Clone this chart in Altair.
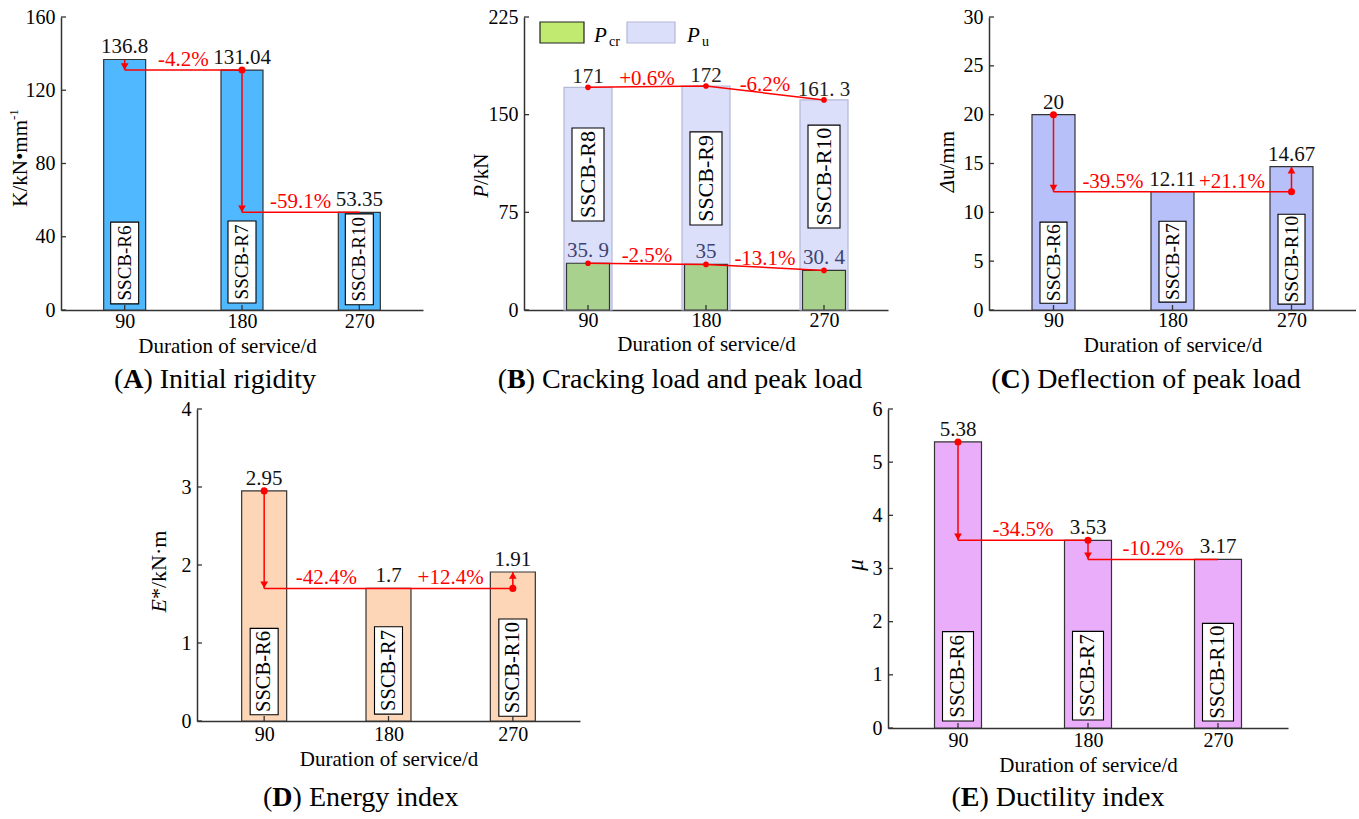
import altair as alt
import pandas as pd

# ---------------- data ----------------
days = [90, 180, 270]

spec_A = ["SSCB-R6", "SSCB-R7", "SSCB-R10"]
K_values = [136.8, 131.04, 53.35]
K_labels = ["136.8", "131.04", "53.35"]
K_changes = ["-4.2%", "-59.1%"]

spec_B = ["SSCB-R8", "SSCB-R9", "SSCB-R10"]
Pu_values = [171, 172, 161.3]
Pu_labels = ["171", "172", "161. 3"]
Pu_changes = ["+0.6%", "-6.2%"]
Pcr_values = [35.9, 35, 30.4]
Pcr_labels = ["35. 9", "35", "30. 4"]
Pcr_changes = ["-2.5%", "-13.1%"]

spec_C = ["SSCB-R6", "SSCB-R7", "SSCB-R10"]
du_values = [20, 12.11, 14.67]
du_labels = ["20", "12.11", "14.67"]
du_changes = ["-39.5%", "+21.1%"]

spec_D = ["SSCB-R6", "SSCB-R7", "SSCB-R10"]
E_values = [2.95, 1.7, 1.91]
E_labels = ["2.95", "1.7", "1.91"]
E_changes = ["-42.4%", "+12.4%"]

spec_E = ["SSCB-R6", "SSCB-R7", "SSCB-R10"]
mu_values = [5.38, 3.53, 3.17]
mu_labels = ["5.38", "3.53", "3.17"]
mu_changes = ["-34.5%", "-10.2%"]

# ---------------- style helpers ----------------
FONT = "Liberation Serif"
RED = "#ff0000"
DARK = "#333333"
CAP_SIZE = 28

TW = {' ': 250, '(': 333, ')': 333, 'A': 722, 'B': 667, 'C': 667, 'D': 722, 'E': 611,
      'I': 333, 'a': 444, 'b': 500, 'c': 444, 'd': 500, 'e': 444, 'f': 333, 'g': 500,
      'h': 500, 'i': 278, 'k': 500, 'l': 278, 'm': 778, 'n': 500, 'o': 500, 'p': 500,
      'r': 333, 's': 389, 't': 278, 'u': 500, 'v': 500, 'x': 500, 'y': 500}
TWB = {'A': 722, 'B': 667, 'C': 722, 'D': 722, 'E': 667}


def twidth(s, size):
    return sum(TW.get(c, 500) for c in s) / 1000 * size


def const_text(txt, x, y, size=21, style="normal", weight="normal", align="center",
               baseline="middle", angle=0, dy=0, color="black"):
    kw = dict(font=FONT, fontSize=size, fontStyle=style, fontWeight=weight,
              align=align, baseline=baseline, color=color)
    if angle:
        kw["angle"] = angle
    if dy:
        kw["dy"] = dy
    return alt.Chart(pd.DataFrame({"t": [txt]})).mark_text(**kw).encode(
        x=alt.value(x), y=alt.value(y), text="t:N")


def caption(letter, rest, cx, cy, size=CAP_SIZE):
    w_open = twidth("(", size)
    w_let = TWB[letter] / 1000 * size
    w_rest = twidth(rest, size)
    x0 = cx - (w_open + w_let + w_rest) / 2
    return [const_text("(", x0, cy, size, align="left"),
            const_text(letter, x0 + w_open, cy, size, weight="bold", align="left"),
            const_text(rest, x0 + w_open + w_let, cy, size, align="left")]


class Enc:
    """Shared x/y encodings (same scale and axis in every layer of a panel)."""

    def __init__(self, ymax, yticks, xlab_pad, xtitle_y, xtitle_x=None):
        self.xs = alt.Scale(domain=[45, 315], nice=False, zero=False)
        self.ys = alt.Scale(domain=[0, ymax], nice=False, zero=True)
        ax_kw = dict(values=days, format="d", title="Duration of service/d",
                     labelPadding=xlab_pad, titleY=xtitle_y, titleBaseline="middle")
        if xtitle_x is not None:
            ax_kw["titleX"] = xtitle_x
        self.xax = alt.Axis(**ax_kw)
        self.yax = alt.Axis(values=yticks, title="", labelPadding=6)
        self.yticks = yticks

    def X(self, f):
        return alt.X(f, type="quantitative", scale=self.xs, axis=self.xax)

    def Y(self, f):
        return alt.Y(f, type="quantitative", scale=self.ys, axis=self.yax)


def tick_layers(e, h):
    yt = alt.Chart(pd.DataFrame({"t": e.yticks})).mark_rule(color=DARK, strokeWidth=1.3).encode(
        y=e.Y("t"), x=alt.value(0), x2=alt.value(5))
    xt = alt.Chart(pd.DataFrame({"d": days})).mark_rule(color=DARK, strokeWidth=1.3).encode(
        x=e.X("d"), y=alt.value(h), y2=alt.value(h - 5))
    return [xt, yt]


def change_layers(e, values, changes, pattern, skip_first_dot=False):
    d, v = days, values
    mids = [(d[0] + d[1]) / 2, (d[1] + d[2]) / 2]
    if pattern == "stair":
        vseg = [(d[0], v[0], v[1]), (d[1], v[1], v[2])]
        hseg = [(v[1], d[0], d[1]), (v[2], d[1], d[2])]
        dots = [(d[0], v[0]), (d[1], v[1])]
        pct_y = [v[1], v[2]]
    else:
        vseg = [(d[0], v[0], v[1]), (d[2], v[1], v[2])]
        hseg = [(v[1], d[0], d[2])]
        dots = [(d[0], v[0]), (d[2], v[1])]
        pct_y = [v[1], v[1]]
    if skip_first_dot:
        dots = dots[1:]
    vdf = pd.DataFrame(vseg, columns=["x", "y1", "y2"])
    hdf = pd.DataFrame(hseg, columns=["y", "x1", "x2"])
    ddf = pd.DataFrame(dots, columns=["x", "y"])
    down = pd.DataFrame([(x, b) for x, a, b in vseg if b < a], columns=["x", "y"])
    up = pd.DataFrame([(x, b) for x, a, b in vseg if b > a], columns=["x", "y"])
    pdf = pd.DataFrame({"x": mids, "y": pct_y, "t": changes})
    layers = [
        alt.Chart(vdf).mark_rule(color=RED, strokeWidth=1.5).encode(x=e.X("x"), y=e.Y("y1"), y2="y2:Q"),
        alt.Chart(hdf).mark_rule(color=RED, strokeWidth=1.5).encode(x=e.X("x1"), x2="x2:Q", y=e.Y("y")),
    ]
    if len(down):
        layers.append(alt.Chart(down).mark_point(shape="triangle-down", filled=True, color=RED,
                                                 opacity=1, size=60, yOffset=-3.5)
                      .encode(x=e.X("x"), y=e.Y("y")))
    if len(up):
        layers.append(alt.Chart(up).mark_point(shape="triangle-up", filled=True, color=RED,
                                               opacity=1, size=60, yOffset=3.5)
                      .encode(x=e.X("x"), y=e.Y("y")))
    layers.append(alt.Chart(ddf).mark_circle(color=RED, opacity=1, size=50).encode(x=e.X("x"), y=e.Y("y")))
    layers.append(alt.Chart(pdf).mark_text(font=FONT, fontSize=21, color=RED, baseline="alphabetic",
                                           dy=-4).encode(x=e.X("x"), y=e.Y("y"), text="t:N"))
    return layers


def single_panel(w, h, ymax, yticks, values, labels, specs, changes, color, bar_w,
                 box_w, box_lo, box_hi, box_fs, pattern, xlab_pad, xtitle_y,
                 ytitle_layers, cap, skip_first_dot=False, xtitle_x=None):
    e = Enc(ymax, yticks, xlab_pad, xtitle_y, xtitle_x)
    df = pd.DataFrame({"d": days, "v": values, "lab": labels, "spec": specs,
                       "lo": [f * ymax for f in box_lo], "hi": [f * ymax for f in box_hi]})
    df["mid"] = (df["lo"] + df["hi"]) / 2
    base = alt.Chart(df)
    bars = base.mark_bar(size=bar_w, fill=color, stroke=DARK, strokeWidth=1.2, orient="vertical").encode(
        x=e.X("d"), y=e.Y("v"), y2=alt.datum(0))
    boxes = base.mark_bar(size=box_w, fill="white", stroke="black", strokeWidth=1.1,
                          orient="vertical").encode(x=e.X("d"), y=e.Y("lo"), y2="hi:Q")
    btxt = base.mark_text(font=FONT, fontSize=box_fs, angle=270, baseline="middle", align="center",
                          color="black").encode(x=e.X("d"), y=e.Y("mid"), text="spec:N")
    vlab = base.mark_text(font=FONT, fontSize=21, baseline="alphabetic", dy=-6, color="#111").encode(
        x=e.X("d"), y=e.Y("v"), text="lab:N")
    layers = [bars, boxes, btxt] + tick_layers(e, h) + \
        change_layers(e, values, changes, pattern, skip_first_dot) + [vlab] + ytitle_layers + cap
    return alt.layer(*layers).properties(width=w, height=h)


# ---------------- panel A ----------------
H_TOP = 293
A = single_panel(
    362, H_TOP, 160, [0, 40, 80, 120, 160], K_values, K_labels, spec_A, K_changes,
    "#50b8ff", 42, 28, [0.021, 0.024, 0.018], [0.30, 0.304, 0.328], 19, "stair",
    1, 36,
    [const_text("K/kN\u2022mm", -40, 103, 21, align="right", angle=270),
     const_text("-1", -40, 103, 13, align="left", angle=270, dy=-7)],
    caption("A", ") Initial rigidity", 154, 363), skip_first_dot=True, xtitle_x=166)

# ---------------- panel B ----------------
wB, hB = 364, H_TOP
eB = Enc(225, [0, 75, 150, 225], 0, 34)
dfB = pd.DataFrame({"d": days, "pu": Pu_values, "pcr": Pcr_values, "pul": Pu_labels,
                    "pcrl": Pcr_labels, "spec": spec_B,
                    "lo": [0.304 * 225, 0.290 * 225, 0.280 * 225],
                    "hi": [0.621 * 225, 0.608 * 225, 0.631 * 225]})
dfB["mid"] = (dfB["lo"] + dfB["hi"]) / 2
baseB = alt.Chart(dfB)
pu_bars = baseB.mark_bar(size=48, fill="#dcdffa", stroke="#b3b8d8", strokeWidth=1.2, orient="vertical").encode(
    x=eB.X("d"), y=eB.Y("pu"), y2=alt.datum(0))
pcr_bars = baseB.mark_bar(size=43, fill="#a9d18e", stroke=DARK, strokeWidth=1.2, orient="vertical").encode(
    x=eB.X("d"), y=eB.Y("pcr"), y2=alt.datum(0))
boxB = baseB.mark_bar(size=32, fill="white", stroke="black", strokeWidth=1.1, orient="vertical").encode(
    x=eB.X("d"), y=eB.Y("lo"), y2="hi:Q")
btxtB = baseB.mark_text(font=FONT, fontSize=22, angle=270, baseline="middle", align="center").encode(
    x=eB.X("d"), y=eB.Y("mid"), text="spec:N")
pu_line = baseB.mark_line(color=RED, strokeWidth=1.5).encode(x=eB.X("d"), y=eB.Y("pu"))
pcr_line = baseB.mark_line(color=RED, strokeWidth=1.5).encode(x=eB.X("d"), y=eB.Y("pcr"))
pu_pts = baseB.mark_circle(color=RED, opacity=1, size=32).encode(x=eB.X("d"), y=eB.Y("pu"))
pcr_pts = baseB.mark_circle(color=RED, opacity=1, size=32).encode(x=eB.X("d"), y=eB.Y("pcr"))
pu_lab = baseB.mark_text(font=FONT, fontSize=21, baseline="alphabetic", dy=-4, color="#222").encode(
    x=eB.X("d"), y=eB.Y("pu"), text="pul:N")
pcr_lab = baseB.mark_text(font=FONT, fontSize=21, baseline="alphabetic", dy=-6, color="#3d4470").encode(
    x=eB.X("d"), y=eB.Y("pcr"), text="pcrl:N")
midsB = [(days[0] + days[1]) / 2, (days[1] + days[2]) / 2]
pctB = pd.DataFrame({
    "x": midsB + midsB,
    "y": [(Pu_values[0] + Pu_values[1]) / 2, (Pu_values[1] + Pu_values[2]) / 2,
          (Pcr_values[0] + Pcr_values[1]) / 2, (Pcr_values[1] + Pcr_values[2]) / 2],
    "t": Pu_changes + Pcr_changes})
pct_labB = alt.Chart(pctB).mark_text(font=FONT, fontSize=21, color=RED, baseline="alphabetic", dy=-2).encode(
    x=eB.X("x"), y=eB.Y("y"), text="t:N")
legB = [
    alt.Chart(pd.DataFrame({"a": [0]})).mark_rect(fill="#c0ea70", stroke="#222", strokeWidth=1.2).encode(
        x=alt.value(16), x2=alt.value(60), y=alt.value(5), y2=alt.value(26)),
    alt.Chart(pd.DataFrame({"a": [0]})).mark_rect(fill="#dcdffa", stroke="#b3b8d8", strokeWidth=1.2).encode(
        x=alt.value(103), x2=alt.value(151), y=alt.value(5), y2=alt.value(26)),
    const_text("P", 70, 25, 21, style="italic", align="left", baseline="alphabetic"),
    const_text("cr", 85, 29, 14, align="left", baseline="alphabetic"),
    const_text("P", 163, 25, 21, style="italic", align="left", baseline="alphabetic"),
    const_text("u", 178, 29, 14, align="left", baseline="alphabetic"),
]
ytitleB = [const_text("P", -42, 168, 21, style="italic", align="right", angle=270),
           const_text("/kN", -42, 168, 21, align="left", angle=270)]
B = alt.layer(pu_bars, pcr_bars, boxB, btxtB, *tick_layers(eB, hB),
              pu_line, pcr_line, pu_pts, pcr_pts, pu_lab, pcr_lab, pct_labB, *legB, *ytitleB,
              *caption("B", ") Cracking load and peak load", 156, 363)).properties(width=wB, height=hB)

# ---------------- panel C ----------------
C = single_panel(
    367, H_TOP, 30, [0, 5, 10, 15, 20, 25, 30], du_values, du_labels, spec_C, du_changes,
    "#b8c0f9", 43, 27, [0.023, 0.027, 0.02], [0.30, 0.303, 0.327], 19.5, "base",
    0, 35,
    [const_text("\u0394", -41, 163, 21, style="italic", align="right", angle=270),
     const_text("u/mm", -41, 163, 21, align="left", angle=270)],
    caption("C", ") Deflection of peak load", 157, 363))

# ---------------- panel D ----------------
H_D = 312
D = single_panel(
    383, H_D, 4, [0, 1, 2, 3, 4], E_values, E_labels, spec_D, E_changes,
    "#fcd6b6", 45, 28, [0.02, 0.022, 0.015], [0.297, 0.302, 0.327], 20.5, "base",
    3, 38,
    [const_text("E", -38, 190, 22, style="italic", align="right", angle=270),
     const_text("*/kN\u00b7m", -38, 190, 22, align="left", angle=270)],
    caption("D", ") Energy index", 164, 389))

# ---------------- panel E ----------------
H_E = 319
E = single_panel(
    400, H_E, 6, [0, 1, 2, 3, 4, 5, 6], mu_values, mu_labels, spec_E, mu_changes,
    "#e9adf9", 47, 31, [0.022, 0.025, 0.022], [0.302, 0.303, 0.328], 21, "stair",
    2, 37,
    [const_text("\u03bc", -32, 156, 23, style="italic", align="center", angle=270)],
    caption("E", ") Ductility index", 170, 389))


def spacer(w, h):
    return alt.Chart(pd.DataFrame({"a": [0]})).mark_point(opacity=0).encode(
        x=alt.value(0), y=alt.value(0)).properties(width=w, height=h)


top = alt.hconcat(A, B, C, spacing=101, bounds="flush")
bottom = alt.hconcat(spacer(136, 5), alt.hconcat(D, E, spacing=308, bounds="flush"),
                     spacing=0, bounds="flush")

chart = alt.vconcat(top, bottom, spacing=5).properties(
    padding={"left": 8, "top": 7, "right": 0, "bottom": 0}, background="white"
).configure_view(strokeOpacity=0, strokeWidth=0).configure_axis(
    labelFont=FONT, labelFontSize=20, labelColor="black",
    titleFont=FONT, titleFontSize=21, titleFontWeight="normal", titleColor="black",
    domainColor=DARK, domainWidth=1.5, grid=False, ticks=False
)

chart.save("out.html", embed_options={"renderer": "svg", "actions": False})
